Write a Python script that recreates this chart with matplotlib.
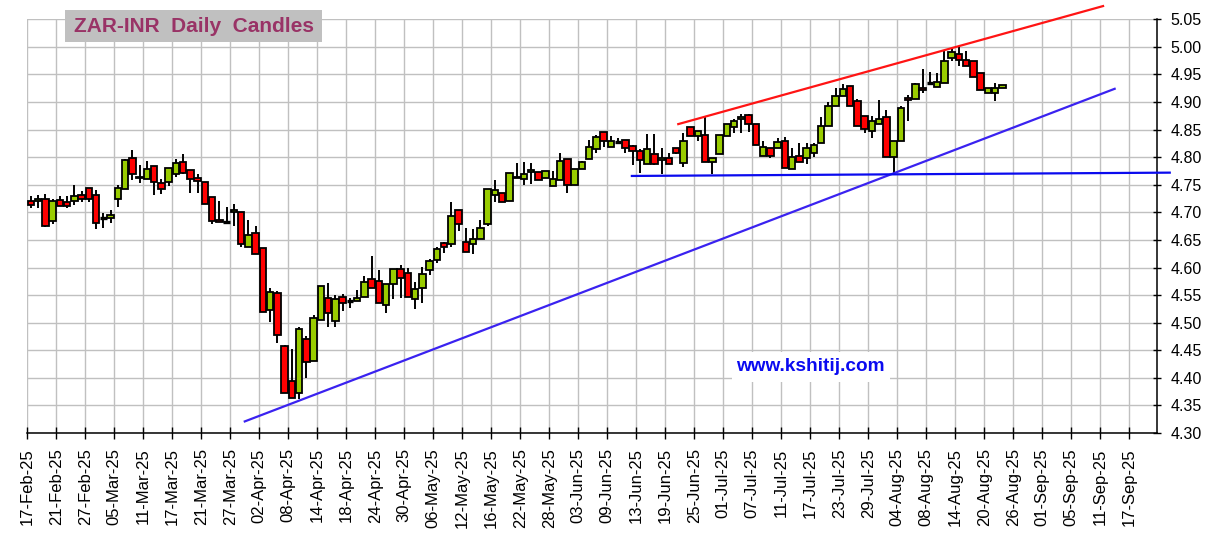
import matplotlib
matplotlib.use("Agg")
import matplotlib.pyplot as plt
from matplotlib.patches import Rectangle

# ZAR-INR daily candles, one entry per trading day (weekdays from 17-Feb-25)
opens = [4.721, 4.720, 4.724, 4.684, 4.722, 4.718, 4.720, 4.731, 4.745, 4.731,
         4.689, 4.689, 4.724, 4.742, 4.798, 4.762, 4.760, 4.784, 4.753, 4.755,
         4.770, 4.791, 4.776, 4.762, 4.755, 4.727, 4.687, 4.683, 4.700, 4.700,
         4.638, 4.662, 4.635, 4.523, 4.554, 4.458, 4.395, 4.373, 4.470, 4.431,
         4.505, 4.545, 4.503, 4.546, 4.539, 4.539, 4.546, 4.579, 4.575, 4.532,
         4.570, 4.597, 4.590, 4.543, 4.563, 4.595, 4.613, 4.644, 4.642, 4.705,
         4.647, 4.642, 4.651, 4.678, 4.731, 4.735, 4.720, 4.765, 4.760, 4.773,
         4.773, 4.762, 4.747, 4.758, 4.796, 4.749, 4.778, 4.796, 4.815, 4.845,
         4.818, 4.828, 4.831, 4.821, 4.812, 4.787, 4.805, 4.795, 4.799, 4.816,
         4.789, 4.855, 4.839, 4.841, 4.792, 4.805, 4.839, 4.855, 4.870, 4.877,
         4.861, 4.803, 4.817, 4.817, 4.830, 4.778, 4.803, 4.798, 4.808, 4.826,
         4.856, 4.893, 4.911, 4.929, 4.901, 4.875, 4.847, 4.860, 4.872, 4.801,
         4.830, 4.908, 4.906, 4.926, 4.935, 4.928, 4.935, 4.980, 4.987, 4.977,
         4.975, 4.953, 4.917, 4.917, 4.926]
highs = [4.730, 4.732, 4.733, 4.724, 4.729, 4.729, 4.750, 4.738, 4.745, 4.740,
         4.698, 4.704, 4.750, 4.797, 4.813, 4.785, 4.793, 4.784, 4.760, 4.780,
         4.796, 4.805, 4.776, 4.769, 4.755, 4.727, 4.720, 4.709, 4.716, 4.700,
         4.687, 4.675, 4.635, 4.563, 4.557, 4.460, 4.452, 4.493, 4.475, 4.514,
         4.566, 4.572, 4.551, 4.552, 4.545, 4.560, 4.584, 4.621, 4.595, 4.570,
         4.597, 4.605, 4.599, 4.573, 4.601, 4.616, 4.638, 4.647, 4.718, 4.705,
         4.671, 4.669, 4.686, 4.742, 4.759, 4.735, 4.771, 4.790, 4.792, 4.789,
         4.773, 4.775, 4.775, 4.807, 4.796, 4.778, 4.794, 4.832, 4.841, 4.845,
         4.838, 4.835, 4.831, 4.822, 4.814, 4.842, 4.842, 4.816, 4.807, 4.816,
         4.843, 4.855, 4.848, 4.872, 4.798, 4.841, 4.861, 4.870, 4.879, 4.879,
         4.861, 4.830, 4.817, 4.834, 4.836, 4.816, 4.826, 4.826, 4.826, 4.872,
         4.900, 4.926, 4.933, 4.929, 4.906, 4.875, 4.875, 4.903, 4.886, 4.830,
         4.892, 4.912, 4.935, 4.960, 4.954, 4.953, 4.993, 4.998, 5.000, 4.993,
         4.975, 4.953, 4.926, 4.935, 4.930]
lows = [4.707, 4.707, 4.674, 4.678, 4.711, 4.708, 4.714, 4.718, 4.718, 4.670,
        4.672, 4.681, 4.709, 4.742, 4.758, 4.753, 4.760, 4.731, 4.733, 4.747,
        4.764, 4.769, 4.736, 4.735, 4.716, 4.678, 4.682, 4.682, 4.676, 4.638,
        4.638, 4.625, 4.519, 4.501, 4.463, 4.373, 4.364, 4.361, 4.400, 4.431,
        4.505, 4.493, 4.493, 4.522, 4.527, 4.539, 4.546, 4.563, 4.536, 4.517,
        4.543, 4.545, 4.546, 4.525, 4.536, 4.586, 4.608, 4.627, 4.638, 4.667,
        4.629, 4.624, 4.651, 4.676, 4.719, 4.718, 4.720, 4.762, 4.750, 4.751,
        4.758, 4.762, 4.747, 4.758, 4.736, 4.749, 4.778, 4.796, 4.807, 4.818,
        4.818, 4.825, 4.807, 4.786, 4.771, 4.787, 4.785, 4.769, 4.787, 4.806,
        4.783, 4.839, 4.830, 4.792, 4.770, 4.805, 4.839, 4.843, 4.843, 4.845,
        4.823, 4.803, 4.798, 4.817, 4.780, 4.778, 4.792, 4.787, 4.800, 4.826,
        4.856, 4.893, 4.911, 4.893, 4.857, 4.843, 4.834, 4.860, 4.801, 4.772,
        4.830, 4.866, 4.906, 4.916, 4.932, 4.928, 4.935, 4.975, 4.965, 4.966,
        4.946, 4.922, 4.917, 4.901, 4.926]
closes = [4.713, 4.724, 4.676, 4.720, 4.711, 4.711, 4.729, 4.724, 4.725, 4.680,
          4.689, 4.696, 4.745, 4.795, 4.770, 4.765, 4.778, 4.755, 4.742, 4.780,
          4.789, 4.771, 4.760, 4.756, 4.716, 4.685, 4.682, 4.683, 4.704, 4.642,
          4.659, 4.625, 4.519, 4.555, 4.477, 4.373, 4.364, 4.489, 4.429, 4.508,
          4.566, 4.517, 4.543, 4.536, 4.539, 4.545, 4.573, 4.563, 4.536, 4.570,
          4.597, 4.581, 4.546, 4.561, 4.588, 4.611, 4.633, 4.638, 4.693, 4.678,
          4.629, 4.651, 4.671, 4.742, 4.740, 4.718, 4.771, 4.762, 4.769, 4.776,
          4.758, 4.775, 4.760, 4.793, 4.750, 4.778, 4.791, 4.818, 4.836, 4.829,
          4.829, 4.828, 4.816, 4.811, 4.795, 4.814, 4.787, 4.798, 4.787, 4.808,
          4.830, 4.839, 4.848, 4.792, 4.798, 4.841, 4.861, 4.866, 4.873, 4.861,
          4.823, 4.819, 4.803, 4.828, 4.780, 4.801, 4.792, 4.817, 4.823, 4.856,
          4.892, 4.911, 4.924, 4.893, 4.857, 4.851, 4.866, 4.870, 4.801, 4.830,
          4.890, 4.904, 4.933, 4.922, 4.935, 4.937, 4.975, 4.991, 4.977, 4.966,
          4.946, 4.922, 4.926, 4.926, 4.930]

# x tick labels, one every 4 trading days
tick_labels = ["17-Feb-25", "21-Feb-25", "27-Feb-25", "05-Mar-25", "11-Mar-25",
               "17-Mar-25", "21-Mar-25", "27-Mar-25", "02-Apr-25", "08-Apr-25",
               "14-Apr-25", "18-Apr-25", "24-Apr-25", "30-Apr-25", "06-May-25",
               "12-May-25", "16-May-25", "22-May-25", "28-May-25", "03-Jun-25",
               "09-Jun-25", "13-Jun-25", "19-Jun-25", "25-Jun-25", "01-Jul-25",
               "07-Jul-25", "11-Jul-25", "17-Jul-25", "23-Jul-25", "29-Jul-25",
               "04-Aug-25", "08-Aug-25", "14-Aug-25", "20-Aug-25", "26-Aug-25",
               "01-Sep-25", "05-Sep-25", "11-Sep-25", "17-Sep-25"]
y_ticks = [4.30, 4.35, 4.40, 4.45, 4.50, 4.55, 4.60, 4.65, 4.70, 4.75,
           4.80, 4.85, 4.90, 4.95, 5.00, 5.05]

# trend lines (trading-day index, price)
resist_x = [89.8, 148.4]
resist_y = [4.860, 5.074]
support_x = [30.0, 150.0]
support_y = [4.321, 4.924]
flat_x = [83.4, 157.6]
flat_y = [4.766, 4.772]

W, H = 1215, 540
fig = plt.figure(figsize=(W / 100, H / 100), dpi=100)
ax = fig.add_axes([27.3 / W, 1 - 433 / H, (1156.7 - 27.3) / W, (433 - 19.3) / H])
ax.set_xlim(0, 155.8)
ax.set_ylim(4.30, 5.05)

green = "#99cc00"
red = "#ff0000"
for i in range(len(opens)):
    o, h, l, c = opens[i], highs[i], lows[i], closes[i]
    ax.vlines(i + 0.5, l, h, color="black", lw=1.4, zorder=3)
    if abs(c - o) < 0.0005:
        ax.hlines(o, i + 0.05, i + 0.95, color="black", lw=2.4, zorder=4)
    else:
        col = green if c > o else red
        ax.add_patch(Rectangle((i + 0.05, min(o, c)), 0.9, abs(c - o),
                               facecolor=col, edgecolor="black", lw=1.3, zorder=4))

ax.plot(resist_x, resist_y, color="#ff1414", lw=1.6, clip_on=False, zorder=5)
ax.plot(support_x, support_y, color="#3a22f0", lw=1.6, clip_on=False, zorder=5)
ax.plot(flat_x, flat_y, color="#0a0aee", lw=1.6, clip_on=False, zorder=5)

# axes styling
ax.set_xticks([4 * k for k in range(len(tick_labels))])
ax.set_xticklabels(tick_labels, rotation=90, fontsize=12, family="Liberation Sans")
ax.set_yticks(y_ticks)
ax.set_yticklabels(["%.2f" % v for v in y_ticks], fontsize=11.5, family="Liberation Sans")
ax.yaxis.tick_right()
ax.tick_params(axis="x", direction="inout", length=8, width=1, pad=7)
ax.tick_params(axis="y", direction="inout", length=6, width=1, pad=7)
ax.grid(True, color="#c0c0c0", lw=1.0)
ax.set_axisbelow(True)
for s in ["left", "top"]:
    ax.spines[s].set_visible(False)
for s in ["bottom", "right"]:
    ax.spines[s].set_linewidth(1.1)

# title box
ax.add_patch(Rectangle((65 / W, 1 - 41.7 / H), 257 / W, 31.7 / H, transform=fig.transFigure,
                       facecolor="#c0c0c0", edgecolor="none", clip_on=False, zorder=6))
fig.text(193.5 / W, 1 - 26 / H, "ZAR-INR  Daily  Candles", ha="center", va="center",
         fontsize=15, fontweight="bold", color="#993366", family="Liberation Sans", zorder=7)

# watermark
ax.add_patch(Rectangle((731.7 / W, 1 - 381.5 / H), 158.3 / W, 29.5 / H, transform=fig.transFigure,
                       facecolor="white", edgecolor="none", clip_on=False, zorder=2))
fig.text(810.5 / W, 1 - 366.5 / H, "www.kshitij.com", ha="center", va="center",
         fontsize=13.7, fontweight="bold", color="#0a0af0", family="Liberation Sans", zorder=7)

fig.savefig("out.png", dpi=100)
